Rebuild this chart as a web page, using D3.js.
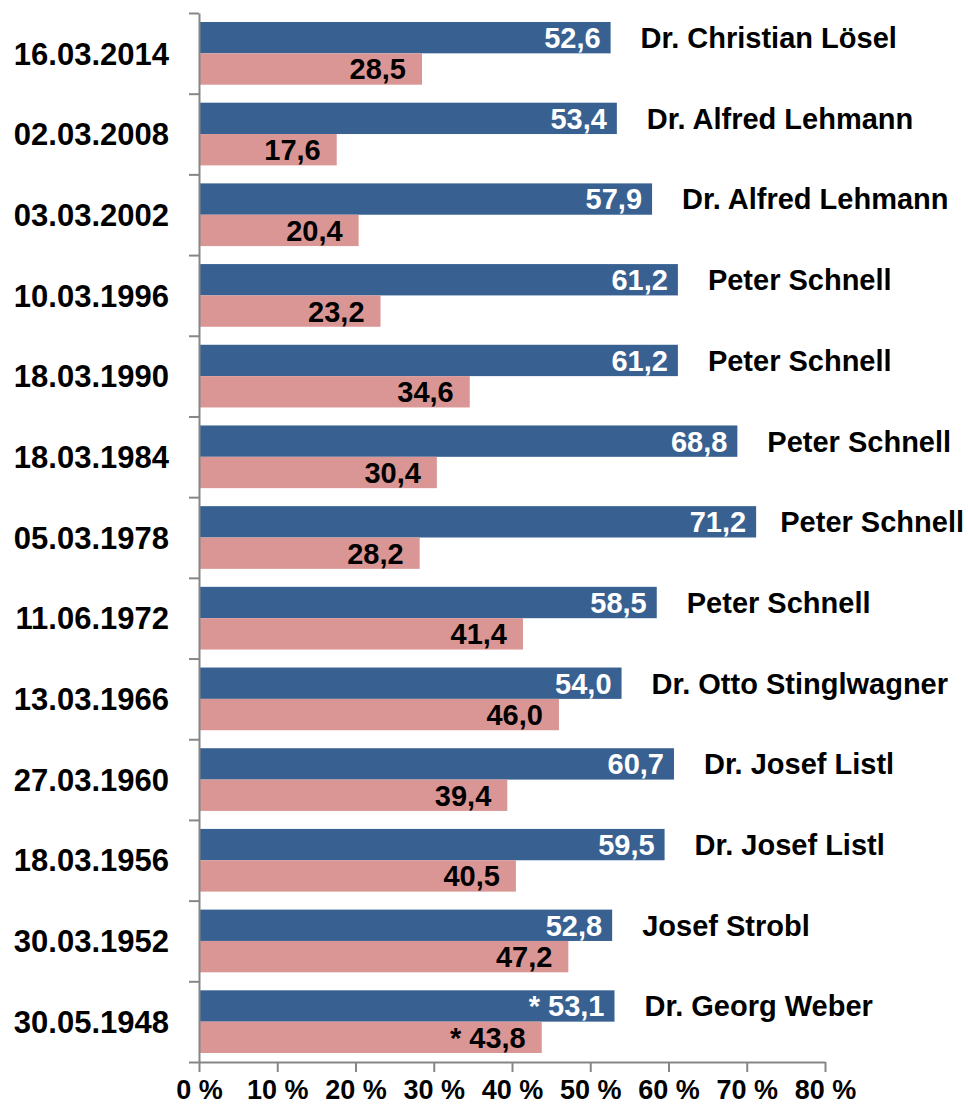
<!DOCTYPE html>
<html>
<head>
<meta charset="utf-8">
<script src="https://cdn.jsdelivr.net/npm/d3@7"></script>
<style>
  body { margin: 0; background: #fff; }
  svg text { font-family: Arial, "Liberation Sans", sans-serif; font-weight: bold; }
</style>
</head>
<body>
<svg id="chart"></svg>
<script>
// election dates, top to bottom as drawn
const dates = ["16.03.2014", "02.03.2008", "03.03.2002", "10.03.1996", "18.03.1990", "18.03.1984",
    "05.03.1978", "11.06.1972", "13.03.1966", "27.03.1960", "18.03.1956", "30.03.1952", "30.05.1948"];
const winners = ["Dr. Christian Lösel", "Dr. Alfred Lehmann", "Dr. Alfred Lehmann", "Peter Schnell",
    "Peter Schnell", "Peter Schnell", "Peter Schnell", "Peter Schnell", "Dr. Otto Stinglwagner",
    "Dr. Josef Listl", "Dr. Josef Listl", "Josef Strobl", "Dr. Georg Weber"];
const winnerShare = [52.6, 53.4, 57.9, 61.2, 61.2, 68.8, 71.2, 58.5, 54.0, 60.7, 59.5, 52.8, 53.1];
const runnerUpShare = [28.5, 17.6, 20.4, 23.2, 34.6, 30.4, 28.2, 41.4, 46.0, 39.4, 40.5, 47.2, 43.8];
const starred = ["30.05.1948"];
const xTicks = [0, 10, 20, 30, 40, 50, 60, 70, 80];

const width = 968, height = 1107;
const margin = { top: 13, left: 199, right: 143, bottom: 45 };
const colors = { win: "#386192", run: "#DA9694" };

const svg = d3.select("#chart").attr("width", width).attr("height", height);

const rows = dates.map((d, i) => ({ date: d, name: winners[i], win: winnerShare[i], run: runnerUpShare[i] }));

const x = d3.scaleLinear()
    .domain([0, 80])
    .range([margin.left, width - margin.right]);

const y = d3.scaleBand()
    .domain(dates)
    .range([margin.top, height - margin.bottom])
    .paddingInner(0.223)
    .paddingOuter(0.1115);

const sub = d3.scaleBand()
    .domain(["win", "run"])
    .range([0, y.bandwidth()]);

const fmt = (v, date) => (starred.includes(date) ? "* " : "") + d3.format(".1f")(v).replace(".", ",");

// bars
const groups = svg.append("g").selectAll("g")
    .data(rows)
    .join("g")
    .attr("transform", d => `translate(0, ${y(d.date)})`);

["win", "run"].forEach(key => {
    groups.append("rect")
        .attr("x", x(0))
        .attr("y", sub(key))
        .attr("width", d => x(d[key]) - x(0))
        .attr("height", sub.bandwidth())
        .attr("fill", colors[key]);

    groups.append("text")
        .attr("x", d => x(d[key]) - (key === "win" ? 10 : 16))
        .attr("y", sub(key) + sub.bandwidth() / 2)
        .attr("dy", "0.36em")
        .attr("text-anchor", "end")
        .attr("font-size", 29)
        .attr("fill", key === "win" ? "#fff" : "#000")
        .text(d => fmt(d[key], d.date));
});

// winner names next to blue bar
groups.append("text")
    .attr("y", sub("win") + sub.bandwidth() / 2)
    .attr("dy", "0.36em")
    .attr("font-size", 29)
    .attr("fill", "#000")
    .text(d => d.name)
    .attr("x", function(d) {
        const w = this.getComputedTextLength();
        return Math.min(x(d.win) + 30, width - 4 - w);
    });

// left axis with ticks between rows
const rowEdge = d3.scaleLinear()
    .domain([0, dates.length])
    .range([margin.top, height - margin.bottom]);

const yAxis = svg.append("g")
    .attr("transform", `translate(${margin.left}, 0)`)
    .call(d3.axisLeft(rowEdge).tickValues(d3.range(dates.length + 1)).tickSize(10).tickSizeOuter(0).tickFormat(""));
yAxis.selectAll("path, line").attr("stroke", "#868686").attr("stroke-width", 2);

// date labels
svg.append("g").selectAll("text")
    .data(rows)
    .join("text")
    .attr("x", 169)
    .attr("y", d => y(d.date) + y.bandwidth() / 2)
    .attr("dy", "0.36em")
    .attr("text-anchor", "end")
    .attr("font-size", 31)
    .attr("fill", "#000")
    .text(d => d.date);

// bottom axis
const xAxis = svg.append("g")
    .attr("transform", `translate(0, ${height - margin.bottom})`)
    .call(d3.axisBottom(x).tickValues(xTicks).tickSize(10).tickSizeOuter(0).tickPadding(8).tickFormat(d => d + " %"));
xAxis.selectAll("path, line").attr("stroke", "#868686").attr("stroke-width", 2);
xAxis.selectAll("text")
    .attr("font-size", 27)
    .attr("fill", "#000")
    .style("font-family", "Arial, 'Liberation Sans', sans-serif")
    .style("font-weight", "bold");
</script>
</body>
</html>
